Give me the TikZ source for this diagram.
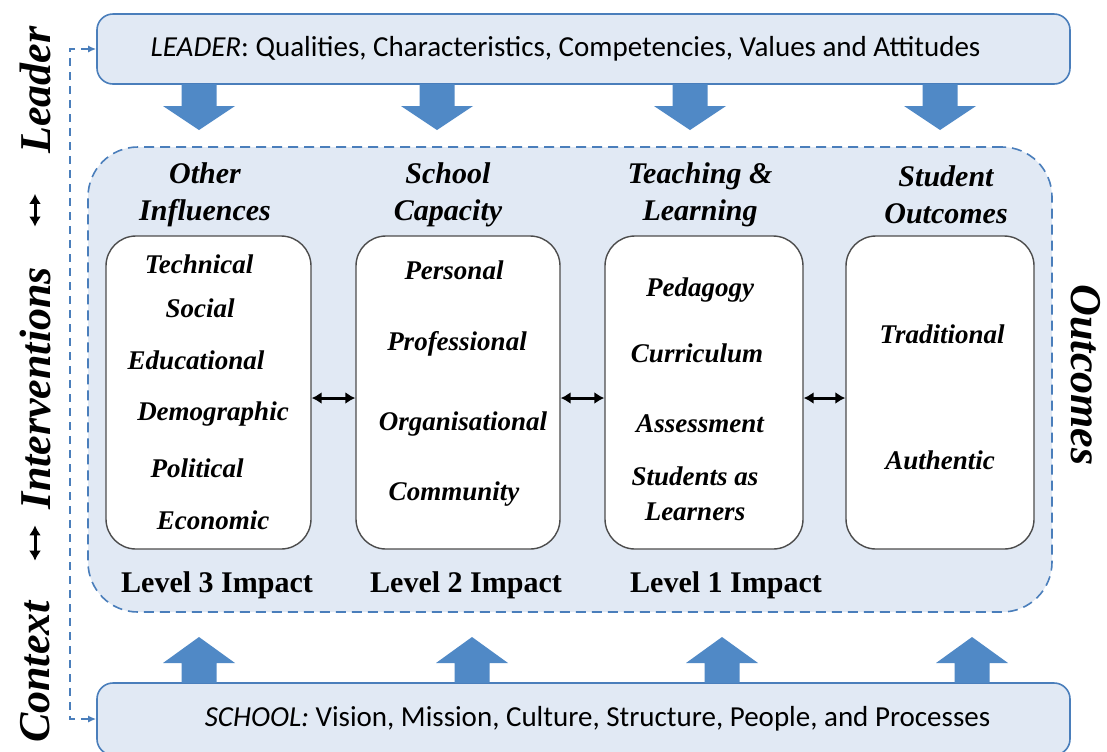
\documentclass[tikz,border=0pt]{standalone}
\usepackage{fontspec}
\setmainfont{Liberation Serif}
\newfontfamily\calib{Carlito}
\usetikzlibrary{positioning, arrows.meta}

\definecolor{paleblue}{HTML}{E1E9F4}
\definecolor{lineblue}{HTML}{4A7EBB}
\definecolor{arrowblue}{HTML}{5089C6}

\tikzset{
  topbox/.style={draw=lineblue, fill=paleblue, rounded corners=8pt, line width=0.8pt,
    minimum width=486.5pt, font=\calib\fontsize{14.5}{17}\selectfont},
  frame/.style={draw=lineblue, fill=paleblue, dash pattern=on 5pt off 3pt,
    rounded corners=25pt, line width=0.8pt},
  inbox/.style={draw=black!70, fill=white, rounded corners=15pt, line width=0.7pt,
    minimum height=156.5pt},
  head/.style={font=\bfseries\itshape\fontsize{15}{18.5}\selectfont, align=center},
  item/.style={font=\bfseries\itshape\fontsize{13.5}{17.5}\selectfont, align=center},
  level/.style={font=\bfseries\fontsize{15}{18}\selectfont},
  side/.style={font=\bfseries\itshape\fontsize{22}{26}\selectfont, inner sep=0pt},
  twoway/.style={{Latex[length=5pt,width=6pt]}-{Latex[length=5pt,width=6pt]}, line width=1.5pt},
  railline/.style={draw=lineblue, dash pattern=on 4pt off 3pt, line width=0.9pt,
    {Latex[length=4pt,width=3.5pt]}-{Latex[length=4pt,width=3.5pt]}},
  bigarrow/.style={fill=arrowblue}
}

\begin{document}
\begin{tikzpicture}[x=0.5pt, y=-0.5pt]
  \useasboundingbox (0,0) rectangle (1107,751);

  % leader and school boxes
  \node[topbox, minimum height=35pt] (leader) at (583.5,49)
    {\textit{LEADER}: Qualities, Characteristics, Competencies, Values and Attitudes\hspace*{18pt}};
  \node[topbox, minimum height=36pt] (school) at (583.5,719)
    {\hspace*{14pt}\textit{SCHOOL:} Vision, Mission, Culture, Structure, People, and Processes};

  % big block arrows
  \foreach \x in {199,437,690,940} {
    \fill[bigarrow] (\x-17.5,84) -- (\x+17.5,84) -- (\x+17.5,106) -- (\x+36,106)
      -- (\x,130) -- (\x-36,106) -- (\x-17.5,106) -- cycle;
  }
  \foreach \x in {199,472,722,972} {
    \fill[bigarrow] (\x-17.5,683) -- (\x+17.5,683) -- (\x+17.5,663) -- (\x+36,663)
      -- (\x,637) -- (\x-36,663) -- (\x-17.5,663) -- cycle;
  }

  % dashed frame
  \node[frame, minimum width=482pt, minimum height=232.5pt] (frame) at (570,379.5) {};

  % inner boxes
  \node[inbox, minimum width=102.5pt] (other) at (208.5,392.5) {};
  \node[inbox, minimum width=102pt] (capacity) at (458,392.5) {};
  \node[inbox, minimum width=99pt] (teaching) at (704,392.5) {};
  \node[inbox, minimum width=94pt] (student) at (940,392.5) {};

  % headings
  \node[head] (otherhd) at (205,194.5) {Other\\Influences};
  \node[head] (capahd) at (448,194.5) {School\\Capacity};
  \node[head] (teachhd) at (700,194.5) {Teaching \&\\Learning};
  \node[head] (studhd) at (946,194.5) {Student\\Outcomes};

  % items
  \foreach \n/\x/\y/\t in {tech/199/264/Technical, soc/200/308/Social,
      edu/196/360/Educational, demo/213/414/Demographic, pol/197/468/Political,
      eco/213/520/Economic,
      pers/454/270/Personal, prof/457/344/Professional,
      org/463/424/Organisational, comm/454/494/Community,
      peda/700/290/Pedagogy, curr/697/353/Curriculum, asse/700/424/Assessment,
      trad/942/334/Traditional, auth/940/460/Authentic} {
    \node[item] (\n) at (\x,\y) {\t};
  }
  \node[item] (learners) at (695,493.5) {Students as\\Learners};

  % levels
  \node[level] (lev3) at (217,585) {Level 3 Impact};
  \node[level] (lev2) at (466,585) {Level 2 Impact};
  \node[level] (lev1) at (726,585) {Level 1 Impact};

  % links between boxes
  \draw[twoway] ([yshift=-2.75pt]other.east) -- ([yshift=-2.75pt]capacity.west);
  \draw[twoway] ([yshift=-2.75pt]capacity.east) -- ([yshift=-2.75pt]teaching.west);
  \draw[twoway] ([yshift=-2.75pt]teaching.east) -- ([yshift=-2.75pt]student.west);

  % side labels
  \node[side, rotate=90] (leadlbl) at (35,90) {Leader};
  \node[side, rotate=90] (intlbl) at (35,388) {Interventions};
  \node[side, rotate=90] (ctxlbl) at (35,672) {Context};
  \node[side, rotate=-90] (outlbl) at (1086,375) {Outcomes};
  \draw[twoway, shorten <=20pt, shorten >=20pt] (leadlbl.west) -- (intlbl.east);
  \draw[twoway, shorten <=8pt, shorten >=20pt] (intlbl.west) -- (ctxlbl.east);

  % dashed rail on the left
  \coordinate (rail) at (70,0);
  \draw[railline] (leader.west) -- (leader.west -| rail) -- (school.west -| rail) -- (school.west);
\end{tikzpicture}
\end{document}
